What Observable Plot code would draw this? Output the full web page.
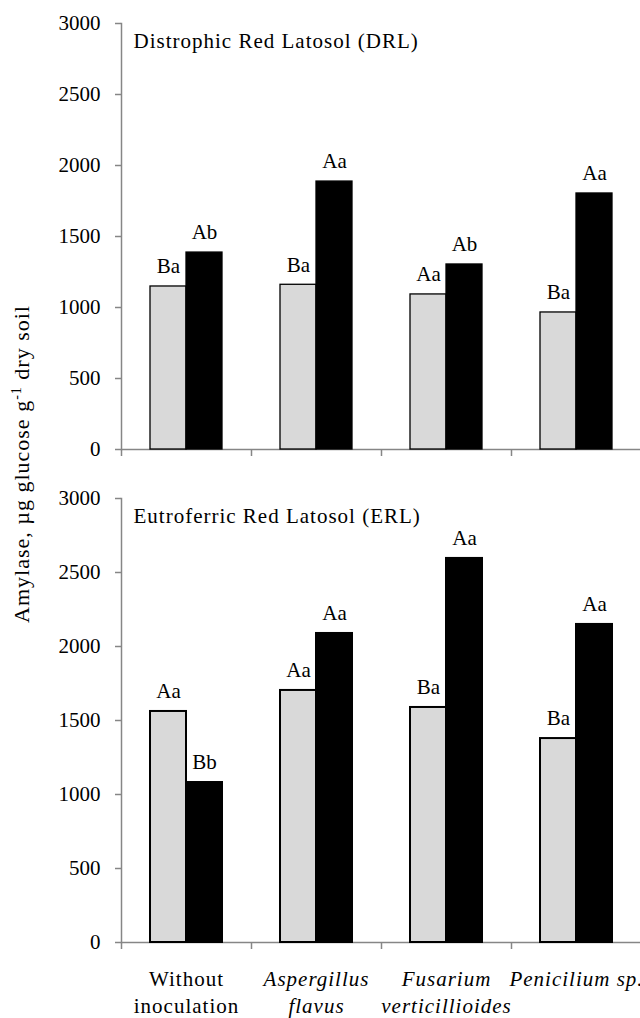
<!DOCTYPE html>
<html>
<head>
<meta charset="utf-8">
<script src="https://cdn.jsdelivr.net/npm/d3@7"></script>
<script src="https://cdn.jsdelivr.net/npm/@observablehq/plot@0.6"></script>
<style>
  html, body { margin: 0; padding: 0; background: #fff; overflow: hidden; width: 640px; }
  #wrap { position: relative; width: 640px; height: 1018px; overflow: hidden; }
  #wrap svg, #wrap svg text { font-family: "Liberation Serif", "Times New Roman", serif !important; }
  #wrap svg text.spaced, #wrap svg text.spaced tspan { letter-spacing: 1px; }
  #ylabel {
    position: absolute; left: 22px; top: 464px;
    transform: translate(-50%, -50%) rotate(-90deg);
    white-space: nowrap; font-family: "Liberation Serif", serif; font-size: 22px; letter-spacing: 1px; color: #000;
  }
  #ylabel sup { font-size: 14px; }
</style>
</head>
<body>
<div id="wrap"><div id="ylabel">Amylase, µg glucose g<sup>-1</sup> dry soil</div></div>
<script>
// ---- data ----
const categories = ["Without inoculation", "Aspergillus flavus", "Fusarium verticillioides", "Penicilium sp."];
const categoryLines = ["Without\ninoculation", "Aspergillus\nflavus", "Fusarium\nverticillioides", "Penicilium sp."];
const categoryItalic = [false, true, true, true];
const treatments = ["T1", "T2"];
const treatmentColors = ["#d9d9d9", "#000000"];
const yTicks = [0, 500, 1000, 1500, 2000, 2500, 3000];

const drlTitle = "Distrophic Red Latosol (DRL)";
const drlT1 = [1148, 1160, 1092, 965];
const drlT2 = [1387, 1887, 1303, 1803];
const drlT1Letters = ["Ba", "Ba", "Aa", "Ba"];
const drlT2Letters = ["Ab", "Aa", "Ab", "Aa"];

const erlTitle = "Eutroferric Red Latosol (ERL)";
const erlT1 = [1561, 1703, 1588, 1378];
const erlT2 = [1081, 2088, 2595, 2149];
const erlT1Letters = ["Aa", "Aa", "Ba", "Ba"];
const erlT2Letters = ["Bb", "Aa", "Aa", "Aa"];

const FONT = "'Liberation Serif', 'Times New Roman', serif";
const AXIS = "#868686";

function rowsOf(t1, t2, l1, l2) {
  const rows = [];
  categories.forEach((c, i) => {
    rows.push({cat: c, trt: treatments[0], value: t1[i], letter: l1[i]});
    rows.push({cat: c, trt: treatments[1], value: t2[i], letter: l2[i]});
  });
  return rows;
}

const labelRows = categories.map((c, i) => ({cat: c, label: categoryLines[i], italic: categoryItalic[i]}));

function panel({title, rows, height, marginTop, marginBottom, labels, titleDy, barStroke}) {
  const width = 660, marginLeft = 121, marginRight = 19;
  const facetW = (width - marginLeft - marginRight) / categories.length;
  const marks = [
    Plot.ruleY([0], {stroke: AXIS, strokeWidth: 1.5}),
    Plot.frame({anchor: "left", stroke: AXIS, strokeWidth: 1.5, fx: () => categories[0]}),
    Plot.axisY({ticks: yTicks, tickSize: 6, tickPadding: 15, stroke: AXIS, strokeWidth: 1.5, fill: "#000", label: null, tickFormat: d => String(d), fontFamily: FONT}),
    Plot.axisFx({anchor: "bottom", tickSize: 7, dx: -facetW / 2, stroke: AXIS, strokeWidth: 1.5, tickFormat: () => "", label: null}),
    Plot.barY(rows, {fx: "cat", x: "trt", y: "value", fill: "trt", stroke: "#000", strokeWidth: barStroke}),
    Plot.text(rows, {fx: "cat", x: "trt", y: "value", text: "letter", dy: -20, fill: "#000", fontSize: 21, fontFamily: FONT}),
    Plot.text([title], {fx: () => categories[0], frameAnchor: "top-left", textAnchor: "start", lineAnchor: "top", dx: 12, dy: titleDy, fill: "#000", fontSize: 21, fontFamily: FONT})
  ];
  if (labels) {
    marks.push(Plot.text(labelRows.filter(d => !d.italic), {fx: "cat", text: "label", frameAnchor: "bottom", lineAnchor: "top", dy: 24, lineHeight: 1.3, fill: "#000", fontSize: 21, fontFamily: FONT}));
    marks.push(Plot.text(labelRows.filter(d => d.italic), {fx: "cat", text: "label", frameAnchor: "bottom", lineAnchor: "top", dy: 24, lineHeight: 1.3, fill: "#000", fontSize: 21, fontStyle: "italic", fontFamily: FONT}));
  }
  const svg = Plot.plot({
    width, height, marginLeft, marginRight, marginTop, marginBottom,
    style: {fontFamily: FONT, fontSize: "21px", background: "transparent", maxWidth: "none", overflow: "visible", display: "block"},
    fx: {domain: categories, padding: 0, label: null, axis: null},
    x: {domain: treatments, paddingInner: 0, paddingOuter: 0.757, axis: null},
    y: {domain: [0, 3000], label: null, axis: null},
    color: {domain: treatments, range: treatmentColors},
    marks
  });
  svg.setAttribute("font-family", FONT);
  // widen the longer texts a little, like the original's rendering
  const spacedTexts = new Set([title, ...categoryLines.map(s => s.replace(/\n/g, ""))]);
  svg.querySelectorAll("text").forEach(t => {
    if (spacedTexts.has(t.textContent)) {
      t.classList.add("spaced");
      t.style.letterSpacing = "1px";
    }
  });
  return svg;
}

const wrap = document.getElementById("wrap");
wrap.appendChild(panel({title: drlTitle, rows: rowsOf(drlT1, drlT2, drlT1Letters, drlT2Letters), height: 460, marginTop: 23, marginBottom: 11, labels: false, titleDy: 10, barStroke: 1.3}));
wrap.appendChild(panel({title: erlTitle, rows: rowsOf(erlT1, erlT2, erlT1Letters, erlT2Letters), height: 558, marginTop: 38, marginBottom: 76, labels: true, titleDy: 10, barStroke: 2}));
</script>
</body>
</html>
